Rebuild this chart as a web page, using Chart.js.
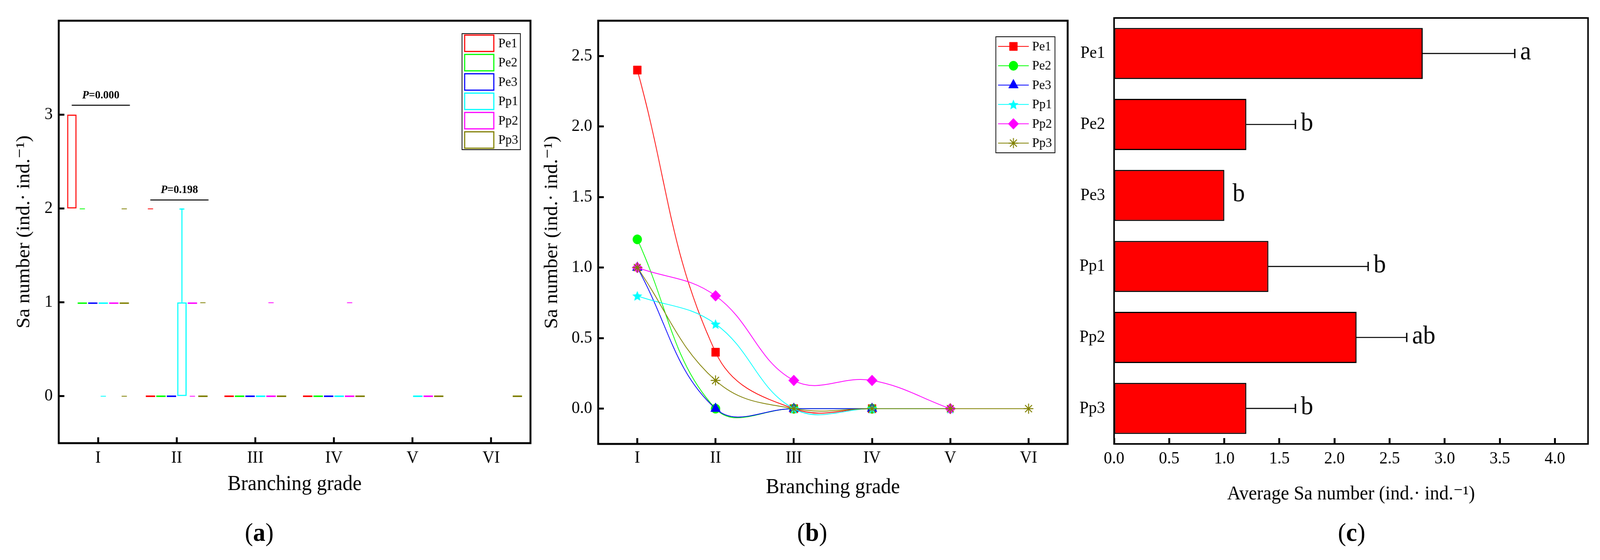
<!DOCTYPE html>
<html lang="en">
  <head>
    <meta charset="UTF-8" />
    <title>Sa number by branching grade</title>
    <script src="https://cdn.jsdelivr.net/npm/chart.js@4.4.1/dist/chart.umd.min.js"></script>
    <style>
      html,
      body {
        margin: 0;
        padding: 0;
        background: #fff;
        overflow: hidden;
      }
      #page {
        position: absolute;
        left: 0;
        top: 0;
        width: 4277px;
        height: 1433px;
        transform-origin: 0 0;
        font-family: "Liberation Serif", "DejaVu Serif", serif;
      }
      .panel {
        position: absolute;
        top: 0;
        height: 1300px;
      }
      .tag {
        position: absolute;
        top: 1322px;
        font-size: 66px;
        line-height: 80px;
        transform: translateX(-50%);
      }
    </style>
  </head>
  <body>
    <div id="page">
      <div class="panel" style="left: 0; width: 1450px"><canvas id="chart-a"></canvas></div>
      <div class="panel" style="left: 1440px; width: 1430px"><canvas id="chart-b"></canvas></div>
      <div class="panel" style="left: 2870px; width: 1407px"><canvas id="chart-c"></canvas></div>
      <div class="tag" style="left: 693px">(<b>a</b>)</div>
      <div class="tag" style="left: 2171px">(<b>b</b>)</div>
      <div class="tag" style="left: 3613px">(<b>c</b>)</div>
    </div>

    <script>
      // fit the 4277x1433 figure into whatever viewport we get
      const page = document.getElementById("page");
      page.style.transform = `scale(${window.innerWidth / 4277}, ${window.innerHeight / 1433})`;

      // ---- data ----
      const grades = ["I", "II", "III", "IV", "V", "VI"];
      const species = ["Pe1", "Pe2", "Pe3", "Pp1", "Pp2", "Pp3"];
      const colors = ["#ff0000", "#00ff00", "#0000ff", "#00ffff", "#ff00ff", "#808000"];

      // (a) box plots, one row per species, one column per grade
      const boxLow = [
        [2, 0, 0, 0, null, null],
        [1, 0, 0, 0, null, null],
        [1, 0, 0, 0, null, null],
        [1, 0, 0, 0, 0, null],
        [1, 1, 0, 0, 0, null],
        [1, 0, 0, 0, 0, 0],
      ];
      const boxHigh = [
        [3, 0, 0, 0, null, null],
        [1, 0, 0, 0, null, null],
        [1, 0, 0, 0, null, null],
        [1, 1, 0, 0, 0, null],
        [1, 1, 0, 0, 0, null],
        [1, 0, 0, 0, 0, 0],
      ];
      const whiskerTop = [
        [null, null, null, null, null, null],
        [null, null, null, null, null, null],
        [null, null, null, null, null, null],
        [null, 2, null, null, null, null],
        [null, null, null, null, null, null],
        [null, null, null, null, null, null],
      ];
      const outlierA = [
        [null, 2, null, null, null, null],
        [2, null, null, null, null, null],
        [null, null, null, null, null, null],
        [0, null, null, null, null, null],
        [null, 0, 1, 1, null, null],
        [2, 1, null, null, null, null],
      ];
      const outlierB = [
        [null, null, null, null, null, null],
        [null, null, null, null, null, null],
        [null, null, null, null, null, null],
        [null, null, null, null, null, null],
        [null, null, null, null, null, null],
        [0, null, null, null, null, null],
      ];
      const yTicksA = [0, 1, 2, 3];
      const pGrade = [0, 1];
      const pLineY = [3.1, 2.09];
      const pText = ["0.000", "0.198"];

      // (b) mean Sa number per grade
      const lineValues = [
        [2.4, 0.4, 0, 0, null, null],
        [1.2, 0, 0, 0, null, null],
        [1.0, 0, 0, 0, null, null],
        [0.8, 0.6, 0, 0, 0, null],
        [1.0, 0.8, 0.2, 0.2, 0, null],
        [1.0, 0.2, 0, 0, 0, 0],
      ];
      const yTicksB = [0, 0.5, 1, 1.5, 2, 2.5];

      // (c) average Sa number with error and letters
      const avgSa = [2.8, 1.2, 1.0, 1.4, 2.2, 1.2];
      const avgErr = [0.83, 0.44, 0, 0.9, 0.45, 0.44];
      const sigLetters = ["a", "b", "b", "b", "ab", "b"];
      const xTicksC = [0, 0.5, 1, 1.5, 2, 2.5, 3, 3.5, 4];

      // ---- shared look ----
      const FONT = "'Liberation Serif', 'DejaVu Serif', serif";
      Chart.defaults.font.family = FONT;
      Chart.defaults.color = "#000";
      Chart.defaults.animation = false;
      Chart.defaults.plugins.legend.display = false;
      Chart.defaults.plugins.tooltip.enabled = false;

      const tickFont = { size: 44, lineHeight: 1 };
      const titleFont = { size: 54, lineHeight: 1 };
      const yTitleFont = { size: 51, lineHeight: 1 };
      const yTitle = "Sa number (ind.\u00b7 ind.\u207b\u00b9)";

      // inward tick marks
      const inwardGrid = {
        drawOnChartArea: false,
        drawTicks: true,
        tickLength: -15,
        tickWidth: 5,
        tickColor: "#000",
      };

      const framePlugin = {
        id: "frame",
        afterDraw(chart, args, opts) {
          const { ctx, chartArea: a } = chart;
          ctx.save();
          ctx.lineWidth = opts.width || 5;
          ctx.strokeStyle = "#000";
          ctx.strokeRect(a.left, a.top, a.right - a.left, a.bottom - a.top);
          ctx.restore();
        },
      };

      function starImage(color, r) {
        const c = document.createElement("canvas");
        c.width = c.height = Math.ceil(2 * r + 2);
        const g = c.getContext("2d");
        g.translate(c.width / 2, c.height / 2 + r * 0.1);
        g.beginPath();
        for (let k = 0; k < 10; k++) {
          const rr = k % 2 ? r * 0.45 : r;
          const ang = -Math.PI / 2 + (k * Math.PI) / 5;
          g.lineTo(rr * Math.cos(ang), rr * Math.sin(ang));
        }
        g.closePath();
        g.fillStyle = color;
        g.fill();
        return c;
      }

      // ---- (a) box plot ----
      const legendA = {
        id: "legendA",
        afterDraw(chart) {
          const { ctx, chartArea } = chart;
          const w = 156, rowH = 49.5;
          const x = chartArea.right - 27 - w, y = chartArea.top + 33;
          ctx.save();
          ctx.lineWidth = 2;
          ctx.strokeStyle = "#000";
          ctx.strokeRect(x, y, w, rowH * species.length);
          ctx.font = `34px ${FONT}`;
          ctx.textBaseline = "middle";
          ctx.fillStyle = "#000";
          species.forEach((name, s) => {
            const cy = y + rowH * (s + 0.5);
            ctx.lineWidth = 3;
            ctx.strokeStyle = colors[s];
            ctx.strokeRect(x + 7, cy - 21, 78, 42);
            ctx.fillText(name, x + 97, cy + 1);
          });
          ctx.restore();
        },
      };

      const pValuePlugin = {
        id: "pvalues",
        afterDatasetsDraw(chart) {
          const { ctx, scales } = chart;
          const italic = `italic bold 29px ${FONT}`;
          const bold = `bold 29px ${FONT}`;
          ctx.save();
          pGrade.forEach((g, k) => {
            const x0 = scales.x.getPixelForValue(g - 0.335);
            const x1 = scales.x.getPixelForValue(g + 0.405);
            const yy = scales.y.getPixelForValue(pLineY[k]);
            ctx.lineWidth = 2.5;
            ctx.strokeStyle = "#000";
            ctx.beginPath();
            ctx.moveTo(x0, yy);
            ctx.lineTo(x1, yy);
            ctx.stroke();
            const rest = "=" + pText[k];
            ctx.font = italic;
            const wP = ctx.measureText("P").width;
            ctx.font = bold;
            const wR = ctx.measureText(rest).width;
            const start = (x0 + x1) / 2 - (wP + wR) / 2;
            const ty = yy - 25;
            ctx.fillStyle = "#000";
            ctx.textBaseline = "middle";
            ctx.font = italic;
            ctx.fillText("P", start, ty);
            ctx.font = bold;
            ctx.fillText(rest, start + wP, ty);
          });
          ctx.restore();
        },
      };

      const pair = (a, b) => (a === null || a === undefined ? null : [a, b]);
      const datasetsA = [];
      species.forEach((name, s) => {
        const c = colors[s];
        datasetsA.push({
          label: name,
          stack: name,
          data: boxLow[s].map((v, i) => pair(v, boxHigh[s][i])),
          backgroundColor: "rgba(0,0,0,0)",
          borderColor: c,
          borderWidth: 3,
          borderSkipped: false,
          minBarLength: 4,
          barPercentage: 0.9,
        });
        datasetsA.push({
          label: name + " whisker",
          stack: name,
          data: whiskerTop[s].map((v, i) => pair(v, boxHigh[s][i])),
          backgroundColor: c,
          borderWidth: 0,
          barPercentage: 0.1,
        });
        datasetsA.push({
          label: name + " cap",
          stack: name,
          data: whiskerTop[s].map((v) => pair(v, v)),
          backgroundColor: c,
          borderWidth: 0,
          minBarLength: 3,
          barPercentage: 0.47,
        });
        [outlierA, outlierB].forEach((o, k) => {
          datasetsA.push({
            label: name + " outlier " + (k + 1),
            stack: name,
            data: o[s].map((v) => pair(v, v)),
            backgroundColor: c,
            borderWidth: 0,
            minBarLength: 2,
            barPercentage: 0.5,
          });
        });
      });

      new Chart(document.getElementById("chart-a"), {
        type: "bar",
        data: { labels: grades, datasets: datasetsA },
        options: {
          responsive: true,
          maintainAspectRatio: false,
          layout: { padding: { left: 0, right: 32, top: 36, bottom: 0 } },
          plugins: { frame: { width: 5 } },
          scales: {
            x: {
              grid: { ...inwardGrid, offset: false },
              border: { display: false },
              ticks: { font: tickFont, padding: 31 },
              title: {
                display: true,
                text: "Branching grade",
                font: titleFont,
                padding: { top: 0, bottom: 33 },
              },
              afterFit: (s) => { s.height = 166; },
            },
            y: {
              stacked: false,
              min: -0.5,
              max: 4,
              grid: inwardGrid,
              border: { display: false },
              ticks: { font: tickFont, padding: 31 },
              afterBuildTicks: (s) => { s.ticks = yTicksA.map((v) => ({ value: v })); },
              title: {
                display: true,
                text: yTitle,
                font: yTitleFont,
                padding: { top: 39, bottom: 0 },
              },
              afterFit: (s) => { s.width = 157; },
            },
          },
        },
        plugins: [framePlugin, pValuePlugin, legendA],
      });

      // ---- (b) spline lines ----
      const markerStyles = ["rect", "circle", "triangle", starImage(colors[3], 14), "rectRot", "star"];
      const markerRadii = [15, 12, 15, 14, 14, 13];

      const legendB = {
        id: "legendB",
        afterDraw(chart) {
          const { ctx, chartArea } = chart;
          const w = 158, rowH = 49.5;
          const x = chartArea.right - 34 - w, y = chartArea.top + 41;
          ctx.save();
          ctx.lineWidth = 2;
          ctx.strokeStyle = "#000";
          ctx.strokeRect(x, y, w, rowH * species.length);
          species.forEach((name, s) => {
            const cy = y + rowH * (s + 0.5);
            ctx.strokeStyle = colors[s];
            ctx.fillStyle = colors[s];
            ctx.lineWidth = 2;
            ctx.beginPath();
            ctx.moveTo(x + 6, cy);
            ctx.lineTo(x + 88, cy);
            ctx.stroke();
            ctx.lineWidth = s === 5 ? 2.5 : 1;
            Chart.helpers.drawPoint(ctx, {
              pointStyle: markerStyles[s],
              radius: markerRadii[s],
              rotation: 0,
              borderWidth: ctx.lineWidth,
            }, x + 47, cy);
            ctx.fillStyle = "#000";
            ctx.font = `34px ${FONT}`;
            ctx.textBaseline = "middle";
            ctx.fillText(name, x + 97, cy + 1);
          });
          ctx.restore();
        },
      };

      new Chart(document.getElementById("chart-b"), {
        type: "line",
        data: {
          labels: grades,
          datasets: species.map((name, s) => ({
            label: name,
            data: lineValues[s],
            borderColor: colors[s],
            backgroundColor: colors[s],
            borderWidth: 2,
            tension: 0.4,
            pointStyle: markerStyles[s],
            pointRadius: markerRadii[s],
            pointBorderWidth: s === 5 ? 2.5 : 1,
            order: species.length - s,
          })),
        },
        options: {
          responsive: true,
          maintainAspectRatio: false,
          layout: { padding: { left: 0, right: 8, top: 36, bottom: 0 } },
          plugins: { frame: { width: 5 } },
          scales: {
            x: {
              offset: true,
              grid: inwardGrid,
              border: { display: false },
              ticks: { font: tickFont, padding: 29 },
              title: {
                display: true,
                text: "Branching grade",
                font: titleFont,
                padding: { top: 0, bottom: 25 },
              },
              afterFit: (s) => { s.height = 164; },
            },
            y: {
              min: -0.25,
              max: 2.75,
              grid: inwardGrid,
              border: { display: false },
              ticks: { font: tickFont, padding: 31, callback: (v) => v.toFixed(1) },
              afterBuildTicks: (s) => { s.ticks = yTicksB.map((v) => ({ value: v })); },
              title: {
                display: true,
                text: yTitle,
                font: yTitleFont,
                padding: { top: 10, bottom: 0 },
              },
              afterFit: (s) => { s.width = 159; },
            },
          },
        },
        plugins: [framePlugin, legendB],
      });

      // ---- (c) horizontal bars ----
      const letterPlugin = {
        id: "letters",
        afterDatasetsDraw(chart) {
          const { ctx, scales } = chart;
          ctx.save();
          ctx.font = `66px ${FONT}`;
          ctx.fillStyle = "#000";
          ctx.textBaseline = "alphabetic";
          sigLetters.forEach((txt, i) => {
            const gap = avgErr[i] > 0 ? 16 : 22;
            const x = scales.x.getPixelForValue(avgSa[i] + avgErr[i]) + gap;
            const y = scales.y.getPixelForValue(i) + 15;
            ctx.fillText(txt, x, y);
          });
          ctx.restore();
        },
      };

      new Chart(document.getElementById("chart-c"), {
        type: "bar",
        data: {
          labels: species,
          datasets: [
            {
              label: "Average Sa number",
              stack: "c",
              data: avgSa,
              backgroundColor: "#ff0000",
              borderColor: "#000",
              borderWidth: 3,
              borderSkipped: false,
              categoryPercentage: 1,
              barPercentage: 0.72,
            },
            {
              label: "error",
              stack: "c",
              data: avgSa.map((v, i) => (avgErr[i] > 0 ? [v, v + avgErr[i]] : null)),
              backgroundColor: "#000",
              borderWidth: 0,
              barThickness: 2,
            },
            {
              label: "error cap",
              stack: "c",
              data: avgSa.map((v, i) => (avgErr[i] > 0 ? [v + avgErr[i], v + avgErr[i]] : null)),
              backgroundColor: "#000",
              borderWidth: 0,
              minBarLength: 3,
              barThickness: 23,
            },
          ],
        },
        options: {
          indexAxis: "y",
          responsive: true,
          maintainAspectRatio: false,
          layout: { padding: { left: 0, right: 32, top: 41, bottom: 0 } },
          plugins: { frame: { width: 4 } },
          scales: {
            x: {
              stacked: false,
              min: 0,
              max: 4.3,
              grid: inwardGrid,
              border: { display: false },
              ticks: { font: tickFont, padding: 31, callback: (v) => v.toFixed(1) },
              afterBuildTicks: (s) => { s.ticks = xTicksC.map((v) => ({ value: v })); },
              title: {
                display: true,
                text: "Average Sa number (ind.\u00b7 ind.\u207b\u00b9)",
                font: { size: 50, lineHeight: 1 },
                padding: { top: 0, bottom: 10 },
              },
              afterFit: (s) => { s.height = 164; },
            },
            y: {
              grid: { display: false, drawTicks: false },
              border: { display: false },
              ticks: { font: tickFont, padding: 24 },
              afterFit: (s) => { s.width = 108; },
            },
          },
        },
        plugins: [framePlugin, letterPlugin],
      });
    </script>
  </body>
</html>
